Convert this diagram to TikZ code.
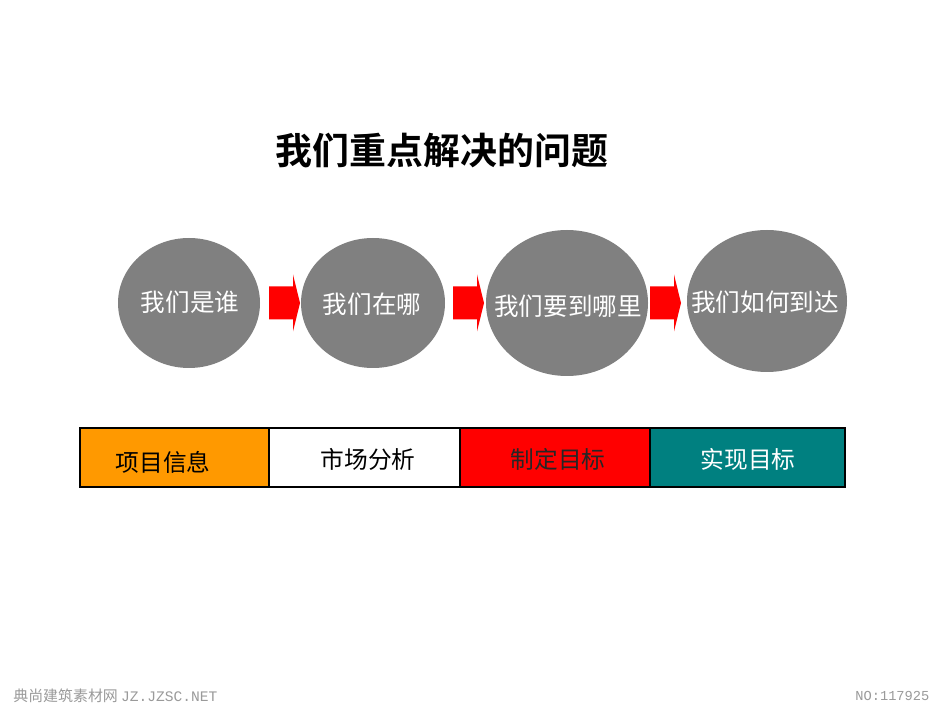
\documentclass[tikz,border=0pt]{standalone}
\usepackage{fontspec}
\newfontfamily\cjk{Noto Sans CJK SC}
\newfontfamily\cjkb{Noto Sans CJK SC Bold}
\newfontfamily\wmmono{Liberation Mono}
\definecolor{circgray}{HTML}{808080}
\definecolor{segorange}{HTML}{FF9900}
\definecolor{segred}{HTML}{FF0000}
\definecolor{segteal}{HTML}{008080}
\definecolor{wmgray}{HTML}{9A9A9A}
\tikzset{
  bubble/.style={ellipse, fill=circgray, text=white, inner sep=0pt, font=\cjk\fontsize{14}{16}\selectfont},
  bubbletext/.style={text=white, font=\cjk\fontsize{14}{16}\selectfont},
  seg/.style={draw=black, line width=0.8pt, minimum height=59*0.02cm, inner sep=0pt, font=\cjk\fontsize{13.5}{15}\selectfont},
  segtext/.style={font=\cjk\fontsize{13.5}{15}\selectfont},
  blockarrow/.style={fill=segred, draw=none},
  wm/.style={text=wmgray, inner sep=0pt, font=\cjk\fontsize{8.5}{10}\selectfont}
}
\usetikzlibrary{shapes.geometric}
\newcommand\redarrow[1]{\fill[blockarrow, shift={(#1,303)}] (0,-16.5) -- (24,-16.5) -- (24,-28.5) -- (31,0) -- (24,28.5) -- (24,16.5) -- (0,16.5) -- cycle;}
\begin{document}
\begin{tikzpicture}[x=0.02cm,y=-0.02cm]
\useasboundingbox (0,0) rectangle (950,712);
\fill[white] (0,0) rectangle (950,712);
% title
\node[font=\cjkb\fontsize{21}{24}\selectfont] (title) at (442,151) {我们重点解决的问题};
% bubbles
\node[bubble, minimum width=142*0.02cm, minimum height=130*0.02cm] (c1) at (189,303) {};
\node[bubble, minimum width=144*0.02cm, minimum height=130*0.02cm] (c2) at (373,303) {};
\node[bubble, minimum width=162*0.02cm, minimum height=146*0.02cm] (c3) at (567,303) {};
\node[bubble, minimum width=160*0.02cm, minimum height=142*0.02cm] (c4) at (767,301) {};
\node[bubbletext] (t1) at (190,302) {我们是谁};
\node[bubbletext] (t2) at (372,304) {我们在哪};
\node[bubbletext] (t3) at (568,306) {我们要到哪里};
\node[bubbletext] (t4) at (765,302) {我们如何到达};
% arrows
\redarrow{269}
\redarrow{453}
\redarrow{650}
% bar
\node[seg, fill=segorange, minimum width=189*0.02cm] (s1) at (174.5,457.5) {};
\node[seg, fill=white, minimum width=191*0.02cm] (s2) at (364.5,457.5) {};
\node[seg, fill=segred, minimum width=190*0.02cm] (s3) at (555,457.5) {};
\node[seg, fill=segteal, minimum width=195*0.02cm] (s4) at (747.5,457.5) {};
\node[segtext, text=black] (l1) at (163,462) {项目信息};
\node[segtext, text=black] (l2) at (368,459) {市场分析};
\node[segtext, text=black!85] (l3) at (558,459) {制定目标};
\node[segtext, text=white] (l4) at (748,459) {实现目标};
% watermarks
\node[wm, anchor=west] (w1) at (13,696) {典尚建筑素材网 {\wmmono\fontsize{8.3}{10}\selectfont JZ.JZSC.NET}};
\node[wm, anchor=west, font=\wmmono\fontsize{7.8}{10}\selectfont] (w2) at (855,696) {NO:117925};
\end{tikzpicture}
\end{document}
